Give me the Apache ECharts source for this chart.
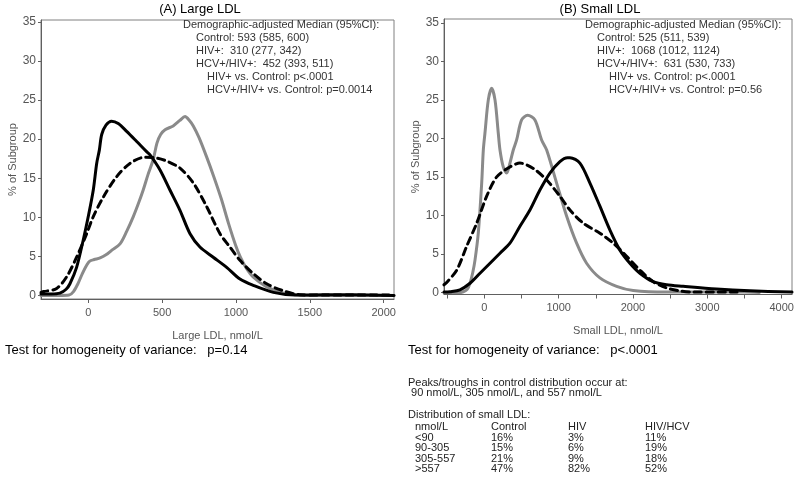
<!DOCTYPE html>
<html>
<head>
<meta charset="utf-8">
<script src="https://cdn.jsdelivr.net/npm/echarts@6/dist/echarts.min.js"></script>
<style>html,body{margin:0;padding:0;background:#fff}#c{width:800px;height:486px}</style>
</head>
<body>
<div id="c"></div>
<script>
// ---- Panel A: Large LDL (x nmol/L, y % of subgroup) ----
var largeControl = [[-320,0],[-200,0],[-130,0.05],[-100,0.5],[-70,1.5],[-40,2.8],[-10,3.9],[10,4.4],[40,4.6],[80,4.8],[120,5.2],[160,5.8],[215,6.6],[260,8.2],[305,10.1],[340,11.8],[372,13.5],[405,15.5],[440,17.4],[465,19.5],[490,20.6],[520,21.2],[575,21.7],[620,22.4],[655,22.9],[685,22.4],[711,21.7],[750,20.2],[800,17.8],[850,15.2],[900,12.4],[950,9.2],[1000,6.3],[1030,4.9],[1070,3.5],[1120,2.3],[1200,1.2],[1300,0.4],[1400,0.1],[1500,0],[2070,0]];
var largeHIV = [[-320,0.2],[-250,0.2],[-192,0.3],[-150,0.8],[-124,1.5],[-79,3.6],[-34,7.1],[0,10.1],[34,13.5],[57,16.9],[75,18.6],[91,20.6],[120,21.8],[158,22.3],[203,22.0],[260,21.0],[328,19.7],[395,18.4],[418,18.0],[485,16.1],[553,13.5],[621,10.9],[689,7.9],[756,6.2],[846,4.9],[937,3.6],[1027,2.1],[1117,1.3],[1253,0.4],[1400,0.05],[1600,0.1],[1800,0.1],[2070,0]];
var largeHCV = [[-320,0.4],[-300,0.5],[-214,0.9],[-146,2.4],[-79,4.9],[-11,7.9],[34,10.1],[102,12.6],[192,15.2],[282,16.9],[384,17.7],[460,17.6],[531,17.2],[621,16.3],[711,14.4],[801,11.4],[892,7.9],[959,6.2],[1027,4.5],[1117,2.8],[1208,1.5],[1320,0.6],[1433,0.1],[1600,0.05],[2070,0.05]];

// ---- Panel B: Small LDL ----
var smallControl = [[-542,0],[-350,0],[-282,0.1],[-230,0.4],[-192,1.2],[-155,2.6],[-125,4.2],[-81,7.7],[-35,14.2],[-13,18.5],[9,20.7],[54,25],[99,26.5],[144,25],[188,20.7],[211,18.5],[255,16.3],[301,15.5],[345,16.8],[390,18.5],[435,19.8],[502,22.4],[583,23],[681,22.4],[771,19.8],[839,18.5],[973,14.2],[1108,9.9],[1242,6.4],[1376,3.8],[1555,1.9],[1780,0.8],[2003,0.26],[2450,0.05],[3500,0.05],[3700,0]];
var smallHIV = [[-542,0.05],[-461,0.1],[-327,0.35],[-192,1.2],[-58,2.5],[77,3.8],[211,5.1],[345,6.4],[480,8.6],[614,10.7],[748,13.3],[883,15.5],[1017,17.0],[1120,17.5],[1152,17.5],[1286,16.8],[1421,14.2],[1555,11.2],[1690,8.1],[1824,5.5],[1958,3.8],[2093,2.5],[2272,1.4],[2451,1.0],[2675,0.8],[3124,0.45],[3572,0.22],[4139,0.05]];
var smallHCV = [[-542,1.0],[-506,1.3],[-371,2.9],[-237,6.0],[-102,9.0],[32,12.5],[167,15.0],[345,16.3],[480,16.8],[659,16.1],[839,14.6],[1017,12.5],[1152,10.7],[1331,9.0],[1555,7.7],[1734,6.4],[1914,4.7],[2093,2.9],[2272,1.4],[2451,0.6],[2630,0.2],[2800,0.05],[3400,0.05]];

var yTicks = [0,5,10,15,20,25,30,35];
var xTicksA = [0,500,1000,1500,2000];
var xTicksB = [-500,0,500,1000,1500,2000,2500,3000,3500,4000];
var xLabelsB = [0,1000,2000,3000,4000];

var annA = ['Demographic-adjusted Median (95%CI):','Control: 593 (585, 600)','HIV+:  310 (277, 342)','HCV+/HIV+:  452 (393, 511)','HIV+ vs. Control: p<.0001','HCV+/HIV+ vs. Control: p=0.0014'];
var annB = ['Demographic-adjusted Median (95%CI):','Control: 525 (511, 539)','HIV+:  1068 (1012, 1124)','HCV+/HIV+:  631 (530, 733)','HIV+ vs. Control: p<.0001','HCV+/HIV+ vs. Control: p=0.56'];
var tableHead = ['nmol/L','Control','HIV','HIV/HCV'];
var tableRows = [['<90','16%','3%','11%'],['90-305','15%','6%','19%'],['305-557','21%','9%','18%'],['>557','47%','82%','52%']];

var chart = echarts.init(document.getElementById('c'), null, {renderer:'canvas'});
var FONT = 'Arial, "Liberation Sans", sans-serif';
var AX = '#606060';

function plain(v){ return String(v); }

function xAxis(gi, min, max, ticks, labels, name) {
  return {
    type:'value', gridIndex:gi, min:min, max:max,
    name:name, nameLocation:'middle', nameGap:31,
    nameTextStyle:{fontFamily:FONT, fontSize:11, color:'#555'},
    axisLine:{show:true, onZero:false, lineStyle:{color:AX, width:1}},
    axisTick:{show:true, length:4, customValues:ticks, lineStyle:{color:AX}},
    axisLabel:{customValues:labels, formatter:plain, fontFamily:FONT, fontSize:11, color:'#555', margin:8},
    splitLine:{show:false}
  };
}
function yAxis(gi, min, max) {
  return {
    type:'value', gridIndex:gi, min:min, max:max,
    name:'% of Subgroup', nameLocation:'middle', nameGap:23,
    nameTextStyle:{fontFamily:FONT, fontSize:11, color:'#555'},
    axisLine:{show:true, onZero:false, lineStyle:{color:AX, width:1}},
    axisTick:{show:true, length:3, customValues:yTicks, lineStyle:{color:AX}},
    axisLabel:{customValues:yTicks, formatter:plain, fontFamily:FONT, fontSize:12, color:'#555', margin:5},
    splitLine:{show:false}
  };
}
function line(name, data, gi, color, dashed) {
  return {
    type:'line', name:name, xAxisIndex:gi, yAxisIndex:gi, data:data,
    showSymbol:false, symbol:'none', smooth:0.3,
    lineStyle:{color:color, width:3, type: dashed ? [7,5] : 'solid', join:'round', cap:'round'},
    z: dashed ? 3 : 2
  };
}
function txt(x, y, s, size, color) {
  return {type:'text', x:x, y:y, style:{text:s, font: size+'px '+FONT, fill:color, textAlign:'left', textVerticalAlign:'middle'}};
}

var graphics = [];
graphics.push({type:'text', x:200, y:9, style:{text:'(A) Large LDL', font:'13px '+FONT, fill:'#000', textAlign:'center', textVerticalAlign:'middle'}});
graphics.push({type:'text', x:600, y:9, style:{text:'(B) Small LDL', font:'13px '+FONT, fill:'#000', textAlign:'center', textVerticalAlign:'middle'}});
var indA = [183,196,196,196,207,207];
var indB = [585,597,597,597,609,609];
for (var i=0;i<annA.length;i++){
  graphics.push(txt(indA[i], 25+i*13, annA[i], 11, '#333'));
  graphics.push(txt(indB[i], 25+i*13, annB[i], 11, '#333'));
}
graphics.push(txt(5, 350, 'Test for homogeneity of variance:   p=0.14', 13, '#000'));
graphics.push(txt(408, 350, 'Test for homogeneity of variance:   p<.0001', 13, '#000'));
graphics.push(txt(408, 383, 'Peaks/troughs in control distribution occur at:', 11, '#222'));
graphics.push(txt(408, 393, ' 90 nmol/L, 305 nmol/L, and 557 nmol/L', 11, '#222'));
graphics.push(txt(408, 415, 'Distribution of small LDL:', 11, '#222'));
var colX = [415,491,568,645];
for (var c=0;c<tableHead.length;c++) graphics.push(txt(colX[c], 427, tableHead[c], 11, '#222'));
for (var r=0;r<tableRows.length;r++){
  for (var c2=0;c2<tableRows[r].length;c2++) graphics.push(txt(colX[c2], 437.5+r*10.6, tableRows[r][c2], 11, '#222'));
}

chart.setOption({
  animation:false,
  backgroundColor:'#fff',
  grid:[
    {left:41, right:406, top:20, bottom:187, show:true, borderColor:'#808080', borderWidth:1, backgroundColor:'transparent'},
    {left:444, right:8, top:19, bottom:191.5, show:true, borderColor:'#808080', borderWidth:1, backgroundColor:'transparent'}
  ],
  xAxis:[
    xAxis(0, -320, 2070, xTicksA, xTicksA, 'Large LDL, nmol/L'),
    xAxis(1, -542, 4139, xTicksB, xLabelsB, 'Small LDL, nmol/L')
  ],
  yAxis:[ yAxis(0, -0.45, 35.25), yAxis(1, -0.26, 35.5) ],
  series:[
    line('Control', largeControl, 0, '#8a8a8a', false),
    line('HIV+', largeHIV, 0, '#000', false),
    line('HCV+/HIV+', largeHCV, 0, '#000', true),
    line('Control', smallControl, 1, '#8a8a8a', false),
    line('HIV+', smallHIV, 1, '#000', false),
    line('HCV+/HIV+', smallHCV, 1, '#000', true)
  ],
  graphic: graphics
});
</script>
</body>
</html>
